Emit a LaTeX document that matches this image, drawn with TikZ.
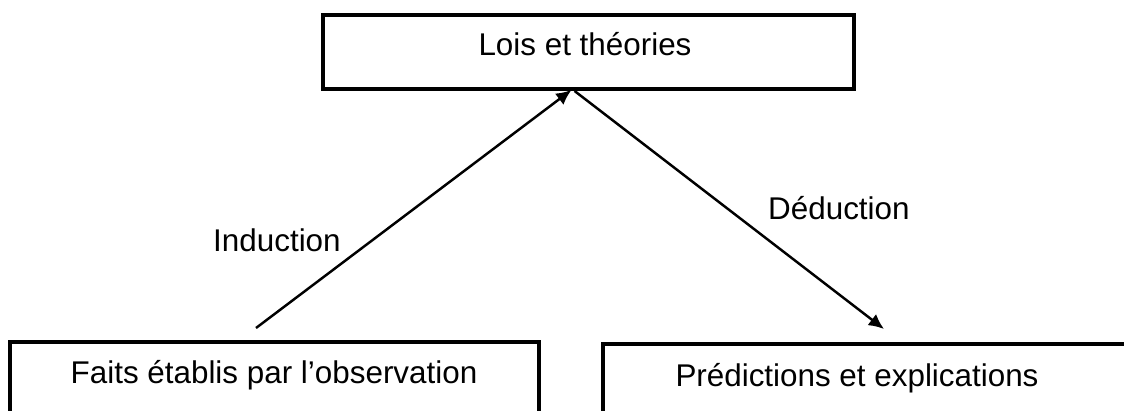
\documentclass[tikz,border=0pt]{standalone}
\usepackage{fontspec}
\setmainfont{Liberation Sans}
\usetikzlibrary{arrows.meta}

\tikzset{
  boite/.style={draw, line width=3.3pt, rectangle, inner sep=0pt},
  texte/.style={font=\fontsize{26.8pt}{32pt}\selectfont, inner sep=0pt},
  fleche/.style={line width=2.1pt, -{Latex[length=13pt, width=12pt]}}
}

\begin{document}
\begin{tikzpicture}[x=0.03cm, y=-0.03cm]
            \useasboundingbox (0, 0) rectangle (1124, 410);
            % les trois cadres
            \node[boite, minimum width=15.93cm, minimum height=2.22cm] (lois) at (588.5, 52) {};
            \node[boite, minimum width=15.87cm, minimum height=3.54cm] (faits) at (274.5, 401) {};
            \node[boite, minimum width=16.41cm, minimum height=3.48cm] (predic) at (876.5, 402) {};
            \node[texte, anchor=base] (loistxt) at (585, 55) {Lois et théories};
            \node[texte, anchor=base] (faitstxt) at (274, 383) {Faits établis par l’observation};
            \node[texte, anchor=base] (predictxt) at (857, 386) {Prédictions et explications};
            % les fleches
            \coordinate (sommet) at ([xshift=-0.51cm, yshift=0.03cm]lois.south);
            \coordinate (depart) at ([xshift=-0.42cm]lois.south);
            \coordinate (pied) at (256, 328);
            \coordinate (bout) at (884, 329);
            \draw[fleche] (pied) -- (sommet);
            \draw[fleche] (depart) -- (bout);
            \node[texte, anchor=base west] (induc) at (213, 251) {Induction};
            \node[texte, anchor=base west] (deduc) at (768, 219) {Déduction};
        \end{tikzpicture}
\end{document}
